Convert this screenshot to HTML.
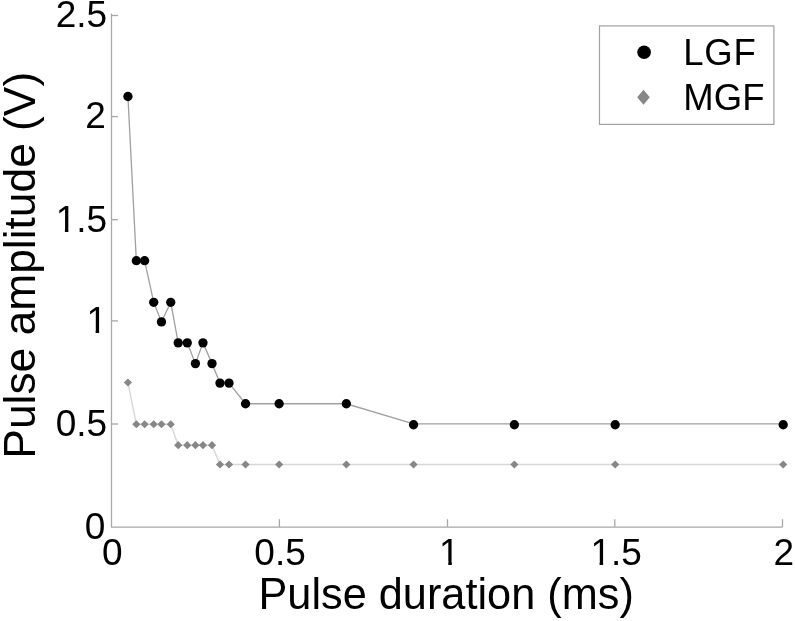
<!DOCTYPE html>
<html><head><meta charset="utf-8"><title>Pulse amplitude vs pulse duration</title>
<style>
html,body{margin:0;padding:0;background:#fff;}
body{width:795px;height:621px;overflow:hidden;}
svg{display:block;}
text{font-family:"Liberation Sans",Arial,sans-serif;fill:#000;}
</style></head><body>
<svg width="795" height="621" viewBox="0 0 795 621">
<rect width="795" height="621" fill="#fff"/>
<g stroke="#a8a8a8" stroke-width="1.3" fill="none">
<path d="M111.5,13.5V527.1H782.5"/>
<path d="M111.6,424.0H118"/>
<path d="M111.6,320.9H118"/>
<path d="M111.6,219.7H118"/>
<path d="M111.6,116.6H118"/>
<path d="M111.6,15.5H118"/>
<path d="M279.4,527V519.2"/>
<path d="M447.5,527V519.2"/>
<path d="M614.8,527V519.2"/>
<path d="M782.5,527V519.2"/>
</g>
<polyline points="127.93,382.52 136.33,424.23 144.60,424.23 153.71,424.23 161.47,424.23 170.74,424.23 178.21,445.20 187.28,445.20 195.42,445.20 202.97,445.20 212.01,445.20 219.99,464.48 229.02,464.48 245.54,464.48 279.15,464.48 346.35,464.48 413.56,464.48 514.37,464.48 615.18,464.48 783.20,464.48" fill="none" stroke="#d8d8d8" stroke-width="1.4"/>
<polyline points="127.93,96.49 136.33,260.72 144.60,260.72 153.71,302.30 161.47,321.88 170.74,302.30 178.21,342.85 187.28,342.85 195.42,363.62 202.97,342.85 212.01,363.62 219.99,383.09 229.02,383.09 245.54,403.76 279.15,403.76 346.35,403.76 413.56,423.93 514.37,423.93 615.18,423.93 783.20,423.93" fill="none" stroke="#a0a0a0" stroke-width="1.3"/>
<g fill="#878787">
<path d="M127.93,378.42L132.03,382.52L127.93,386.62L123.83,382.52Z"/>
<path d="M136.33,420.13L140.43,424.23L136.33,428.33L132.23,424.23Z"/>
<path d="M144.60,420.13L148.70,424.23L144.60,428.33L140.50,424.23Z"/>
<path d="M153.71,420.13L157.81,424.23L153.71,428.33L149.61,424.23Z"/>
<path d="M161.47,420.13L165.57,424.23L161.47,428.33L157.37,424.23Z"/>
<path d="M170.74,420.13L174.84,424.23L170.74,428.33L166.64,424.23Z"/>
<path d="M178.21,441.10L182.31,445.20L178.21,449.30L174.11,445.20Z"/>
<path d="M187.28,441.10L191.38,445.20L187.28,449.30L183.18,445.20Z"/>
<path d="M195.42,441.10L199.52,445.20L195.42,449.30L191.32,445.20Z"/>
<path d="M202.97,441.10L207.07,445.20L202.97,449.30L198.87,445.20Z"/>
<path d="M212.01,441.10L216.11,445.20L212.01,449.30L207.91,445.20Z"/>
<path d="M219.99,460.38L224.09,464.48L219.99,468.58L215.89,464.48Z"/>
<path d="M229.02,460.38L233.12,464.48L229.02,468.58L224.92,464.48Z"/>
<path d="M245.54,460.38L249.64,464.48L245.54,468.58L241.44,464.48Z"/>
<path d="M279.15,460.38L283.25,464.48L279.15,468.58L275.05,464.48Z"/>
<path d="M346.35,460.38L350.45,464.48L346.35,468.58L342.25,464.48Z"/>
<path d="M413.56,460.38L417.66,464.48L413.56,468.58L409.46,464.48Z"/>
<path d="M514.37,460.38L518.47,464.48L514.37,468.58L510.27,464.48Z"/>
<path d="M615.18,460.38L619.28,464.48L615.18,468.58L611.08,464.48Z"/>
<path d="M783.20,460.38L787.30,464.48L783.20,468.58L779.10,464.48Z"/>
</g><g fill="#000">
<circle cx="127.93" cy="96.49" r="4.65"/>
<circle cx="136.33" cy="260.72" r="4.65"/>
<circle cx="144.60" cy="260.72" r="4.65"/>
<circle cx="153.71" cy="302.30" r="4.65"/>
<circle cx="161.47" cy="321.88" r="4.65"/>
<circle cx="170.74" cy="302.30" r="4.65"/>
<circle cx="178.21" cy="342.85" r="4.65"/>
<circle cx="187.28" cy="342.85" r="4.65"/>
<circle cx="195.42" cy="363.62" r="4.65"/>
<circle cx="202.97" cy="342.85" r="4.65"/>
<circle cx="212.01" cy="363.62" r="4.65"/>
<circle cx="219.99" cy="383.09" r="4.65"/>
<circle cx="229.02" cy="383.09" r="4.65"/>
<circle cx="245.54" cy="403.76" r="4.65"/>
<circle cx="279.15" cy="403.76" r="4.65"/>
<circle cx="346.35" cy="403.76" r="4.65"/>
<circle cx="413.56" cy="424.73" r="4.65"/>
<circle cx="514.37" cy="424.73" r="4.65"/>
<circle cx="615.18" cy="424.73" r="4.65"/>
<circle cx="783.20" cy="424.73" r="4.65"/>
</g>
<text transform="translate(55.72,27.04) scale(1,1.02)" font-size="37.0">2.5</text>
<text transform="translate(85.28,128.09) scale(1,1.02)" font-size="37.0">2</text>
<text transform="translate(55.72,231.84) scale(1,1.02)" font-size="37.0">1.5</text>
<text transform="translate(86.43,332.94) scale(1,1.02)" font-size="37.0">1</text>
<text transform="translate(55.72,435.84) scale(1,1.02)" font-size="37.0">0.5</text>
<text transform="translate(84.87,538.79) scale(1,1.02)" font-size="37.0">0</text>
<text transform="translate(102.11,564.59) scale(1,1.02)" font-size="37.0">0</text>
<text transform="translate(254.34,564.59) scale(1,1.02)" font-size="37.0">0.5</text>
<text transform="translate(439.11,564.59) scale(1,1.02)" font-size="37.0">1</text>
<text transform="translate(590.42,564.59) scale(1,1.02)" font-size="37.0">1.5</text>
<text transform="translate(773.41,564.59) scale(1,1.02)" font-size="37.0">2</text>
<rect x="57.54" y="228.62" width="7.37" height="4.42" fill="#fff"/>
<rect x="68.41" y="228.62" width="7.20" height="4.42" fill="#fff"/>
<rect x="88.24" y="329.72" width="7.37" height="4.42" fill="#fff"/>
<rect x="99.12" y="329.72" width="7.20" height="4.42" fill="#fff"/>
<rect x="440.93" y="561.37" width="7.37" height="4.42" fill="#fff"/>
<rect x="451.81" y="561.37" width="7.20" height="4.42" fill="#fff"/>
<rect x="592.24" y="561.37" width="7.37" height="4.42" fill="#fff"/>
<rect x="603.11" y="561.37" width="7.20" height="4.42" fill="#fff"/>
<text transform="translate(258.45,609.3) scale(1,1.023)" font-size="43.3">Pulse duration (ms)</text>
<text transform="translate(34.5,458.64) rotate(-90) scale(1.008,1)" font-size="44.0">Pulse amplitude (V)</text>
<rect x="599.5" y="25.9" width="174.4" height="98.5" fill="#fff" stroke="#a0a0a0" stroke-width="1.2"/>
<circle cx="644.1" cy="52.3" r="6.8" fill="#000"/>
<path d="M643.5,89.8L649.8,97.3L643.5,104.7L637.2,97.3Z" fill="#878787"/>
<text x="683.2" y="64.8" font-size="36.5" letter-spacing="0.85">LGF</text>
<text x="683.2" y="109.8" font-size="36.5" letter-spacing="0.15">MGF</text>
</svg>
</body></html>
